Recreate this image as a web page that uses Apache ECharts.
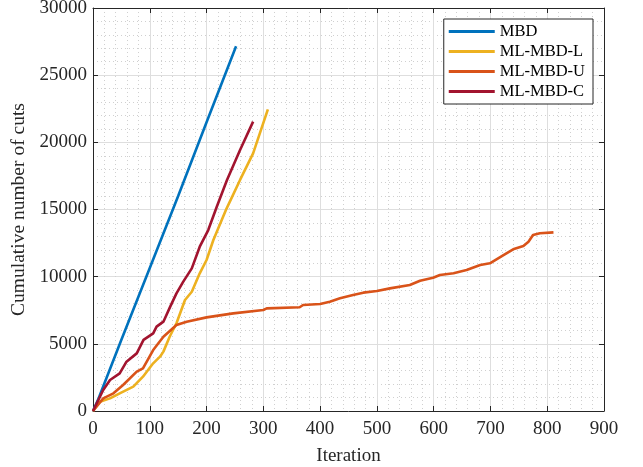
<!DOCTYPE html>
<html>
<head>
<meta charset="utf-8">
<script src="https://cdn.jsdelivr.net/npm/echarts@6/dist/echarts.min.js"></script>
<style>
  html, body { margin: 0; padding: 0; background: #fff; }
  #chart { width: 643px; height: 467px; }
</style>
</head>
<body>
<div id="chart"></div>
<script>
// series names and colours (MATLAB default order)
var seriesNames = ['MBD', 'ML-MBD-L', 'ML-MBD-U', 'ML-MBD-C'];
var seriesColors = ['#0072BD', '#EDB120', '#D95319', '#A2142F'];

// [iteration, cumulative cuts]
var mbd = [[0, 0], [10, 950], [20, 2050], [50, 5300], [100, 10650], [150, 16000], [200, 21500], [252, 27150]];

var mlL = [[0, 0], [12, 690], [30, 940], [47, 1315], [71, 1810], [88, 2555], [106, 3550], [118, 4045],
  [124, 4420], [135, 5530], [147, 6530], [162, 8260], [174, 8880], [188, 10250], [200, 11240],
  [212, 12730], [235, 15050], [259, 17200], [282, 19180], [308, 22450]];

var mlU = [[0, 0], [18, 940], [36, 1315], [53, 1935], [77, 2930], [88, 3180], [106, 4540], [124, 5530],
  [147, 6400], [165, 6650], [200, 6970], [247, 7270], [300, 7520], [306, 7640], [364, 7720], [370, 7890],
  [400, 7965], [417, 8140], [435, 8390], [458, 8635], [476, 8810], [500, 8930], [523, 9130], [558, 9380],
  [576, 9700], [599, 9925], [611, 10125], [635, 10250], [658, 10500], [682, 10870], [699, 10995],
  [723, 11610], [740, 12040], [758, 12280], [767, 12600], [775, 13100], [787, 13230], [811, 13300]];

var mlC = [[0, 0], [18, 1560], [30, 2310], [47, 2800], [59, 3670], [77, 4290], [89, 5290], [106, 5780],
  [112, 6280], [124, 6650], [136, 7770], [147, 8760], [159, 9630], [174, 10620], [188, 12230],
  [203, 13470], [218, 15200], [236, 17200], [259, 19430], [282, 21540]];

var allData = [mbd, mlL, mlU, mlC];

var font = 'Liberation Serif';
var ink = '#262626';

var series = allData.map(function (d, i) {
  return {
    name: seriesNames[i],
    type: 'line',
    data: d,
    showSymbol: false,
    symbol: 'none',
    lineStyle: { width: 2.6, color: seriesColors[i] },
    itemStyle: { color: seriesColors[i] },
    xAxisIndex: 0,
    yAxisIndex: 0
  };
});

function axisBase(extra) {
  var base = {
    type: 'value',
    axisLine: { show: true, onZero: false, lineStyle: { color: ink, width: 1 } },
    axisTick: { show: true, inside: true, length: 5, lineStyle: { color: ink } },
    minorTick: { show: false, splitNumber: 5 },
    splitLine: { show: false },
    minorSplitLine: { show: false },
    axisLabel: { show: false }
  };
  for (var k in extra) base[k] = extra[k];
  return base;
}

var chart = echarts.init(document.getElementById('chart'), null, { renderer: 'canvas' });

chart.setOption({
  animation: false,
  backgroundColor: '#fff',
  textStyle: { fontFamily: font },
  grid: { left: 93, right: 39, top: 8, bottom: 56, containLabel: false, outerBoundsMode: 'none' },
  legend: {
    data: seriesNames,
    orient: 'vertical',
    right: 50,
    top: 19,
    icon: 'rect',
    itemWidth: 46,
    itemHeight: 3,
    itemGap: 3,
    padding: [4, 8, 4, 5],
    backgroundColor: '#fff',
    borderColor: '#262626',
    borderWidth: 1,
    textStyle: { fontFamily: font, fontSize: 16.5, color: '#000', lineHeight: 17, padding: [0, 0, 0, 0] }
  },
  xAxis: [
    axisBase({
      position: 'bottom',
      min: 0, max: 900, interval: 100,
      name: 'Iteration',
      nameLocation: 'middle',
      nameGap: 36,
      nameTextStyle: { fontFamily: font, fontSize: 19, color: ink },
      minorTick: { show: false, splitNumber: 5 },
      splitLine: { show: true, lineStyle: { color: '#dedede', width: 1 } },
      minorSplitLine: { show: true, lineStyle: { color: '#d0d0d0', width: 1, type: [1, 3] } },
      axisLabel: { show: true, fontFamily: font, fontSize: 19, color: ink, margin: 9 }
    }),
    axisBase({ position: 'top', min: 0, max: 900, interval: 100 })
  ],
  yAxis: [
    axisBase({
      position: 'left',
      min: 0, max: 30000, interval: 5000,
      name: 'Cumulative number of cuts',
      nameLocation: 'middle',
      nameGap: 55,
      nameTextStyle: { fontFamily: font, fontSize: 19.5, color: ink },
      minorTick: { show: false, splitNumber: 5 },
      splitLine: { show: true, lineStyle: { color: '#dedede', width: 1 } },
      minorSplitLine: { show: true, lineStyle: { color: '#d0d0d0', width: 1, type: [1, 3] } },
      axisLabel: { show: true, fontFamily: font, fontSize: 19, color: ink, margin: 6,
        formatter: function (v) { return String(v); } }
    }),
    axisBase({ position: 'right', min: 0, max: 30000, interval: 5000 })
  ],
  series: series
});
</script>
</body>
</html>
